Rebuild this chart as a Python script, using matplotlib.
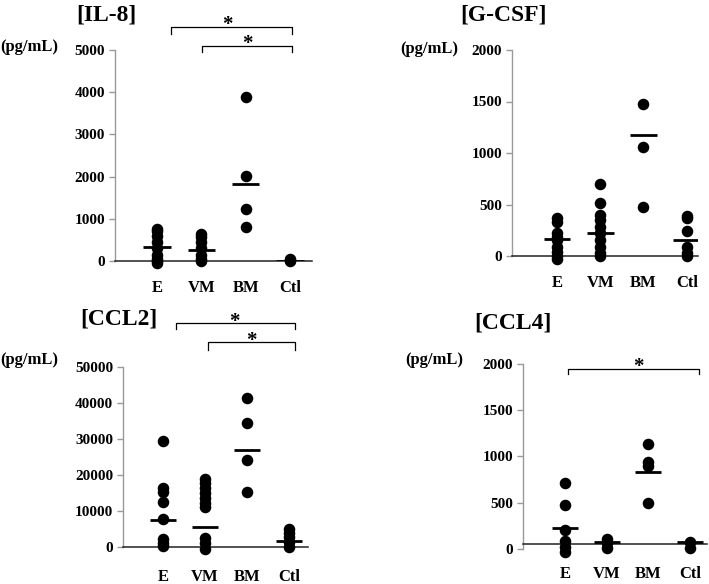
import matplotlib
matplotlib.use('Agg')
import matplotlib.pyplot as plt

W, H = 709, 584

groups = ['E', 'VM', 'BM', 'Ctl']

# IL-8 (pg/mL)
il8_e = [750, 700, 600, 450, 300, 150, 50, 0, -50]
il8_vm = [650, 580, 450, 300, 150, 50, 0]
il8_bm = [3880, 2020, 1240, 810]
il8_ctl = [40, 20, 0]
il8_mean = [330, 250, 1830, 0]

# G-CSF (pg/mL)
gcsf_e = [365, 333, 220, 188, 155, 90, 42, 0, -30]
gcsf_vm = [696, 511, 398, 350, 285, 220, 155, 90, 26, 0]
gcsf_bm = [1476, 1061, 472]
gcsf_ctl = [388, 366, 246, 90, 26, 0]
gcsf_mean = [162, 220, 1178, 155]

# CCL2 (pg/mL)
ccl2_e = [29500, 16500, 15300, 12500, 7900, 2100, 1000, 300]
ccl2_vm = [18800, 17700, 16300, 14900, 13500, 12100, 11000, 2400, 1000, -650]
ccl2_bm = [41500, 34500, 24300, 15250]
ccl2_ctl = [4900, 3800, 2700, 1500, 100]
ccl2_mean = [7500, 5450, 26900, 1750]

# CCL4 (pg/mL)
ccl4_e = [715, 473, 202, 87, 22, -32]
ccl4_vm = [101, 58, 4]
ccl4_bm = [1134, 942, 895, 498]
ccl4_ctl = [69, 4]
ccl4_mean = [227, 76, 834, 69]

plt.rcParams['font.family'] = ['Liberation Serif', 'DejaVu Serif']
plt.rcParams['font.weight'] = 'bold'

fig = plt.figure(figsize=(W / 100, H / 100), dpi=100)


def px_rect(x0, y_top, x1, y_bot):
    return [x0 / W, 1 - y_bot / H, (x1 - x0) / W, (y_bot - y_top) / H]


def plot_panel(ax, cols, means, ymax, step, xlim, xaxis_at=0, label_pad=15):
    for i, vals in enumerate(cols):
        ax.plot([i] * len(vals), vals, 'o', color='black', ms=7.3,
                clip_on=False, zorder=3)
    ax.hlines(means, [i - 0.31 for i in range(4)], [i + 0.31 for i in range(4)],
              color='black', lw=2, zorder=3)
    ax.set_xlim(*xlim)
    ax.set_ylim(0, ymax)
    ax.set_yticks(range(0, ymax + 1, step))
    ax.set_xticks(range(4))
    ax.set_xticklabels(groups)
    ax.spines['top'].set_visible(False)
    ax.spines['right'].set_visible(False)
    ax.spines['left'].set_color('#999999')
    ax.spines['bottom'].set_color('#222222')
    ax.spines['bottom'].set_position(('data', xaxis_at))
    ax.spines['left'].set_linewidth(1)
    ax.spines['bottom'].set_linewidth(1.1)
    ax.tick_params(axis='y', colors='#999999', labelcolor='black', length=4,
                   width=1, pad=3, labelsize=11)
    ax.tick_params(axis='x', length=0, pad=label_pad, labelsize=12)
    ax.patch.set_visible(False)


def bracket(ax, x0, x1, y, drop, star_x):
    ax.plot([x0, x0, x1, x1], [y - drop, y, y, y - drop], color='black',
            lw=0.9, clip_on=False)
    ax.annotate('*', (star_x, y), xytext=(0, -2.5), textcoords='offset points',
                ha='center', va='baseline', fontsize=15, annotation_clip=False)


ax1 = fig.add_axes(px_rect(115, 50, 312, 261))
plot_panel(ax1, [il8_e, il8_vm, il8_bm, il8_ctl], il8_mean, 5000, 1000,
           (-0.95, 3.5), label_pad=14)
bracket(ax1, 0.32, 3.05, 5545, 170, 1.58)
bracket(ax1, 1.02, 3.05, 5095, 140, 2.03)

ax2 = fig.add_axes(px_rect(512, 50, 698, 256))
plot_panel(ax2, [gcsf_e, gcsf_vm, gcsf_bm, gcsf_ctl], gcsf_mean, 2000, 500,
           (-1.04, 3.26), label_pad=14)

ax3 = fig.add_axes(px_rect(123, 367, 308, 547))
plot_panel(ax3, [ccl2_e, ccl2_vm, ccl2_bm, ccl2_ctl], ccl2_mean, 50000, 10000,
           (-0.95, 3.45), label_pad=16)
bracket(ax3, 0.31, 3.14, 62200, 1700, 1.71)
bracket(ax3, 1.07, 3.14, 56900, 2200, 2.1)

ax4 = fig.add_axes(px_rect(523, 364, 707, 548.7))
plot_panel(ax4, [ccl4_e, ccl4_vm, ccl4_bm, ccl4_ctl], ccl4_mean, 2000, 500,
           (-1.01, 3.41), xaxis_at=50, label_pad=16)
bracket(ax4, 0.07, 3.21, 1946, 50, 1.77)

# panel titles and units
for txt, x, y in [('[IL-8]', 76, 15), ('[G-CSF]', 460, 15),
                  ('[CCL2]', 80, 319), ('[CCL4]', 474, 323)]:
    fig.text(x / W, 1 - y / H, txt, fontsize=17, ha='left', va='center')
for x, y in [(0, 47), (400, 49), (0, 360), (405, 360)]:
    fig.text(x / W, 1 - y / H, '(pg/mL)', fontsize=12, ha='left', va='center')

fig.savefig('out.png', dpi=100)
